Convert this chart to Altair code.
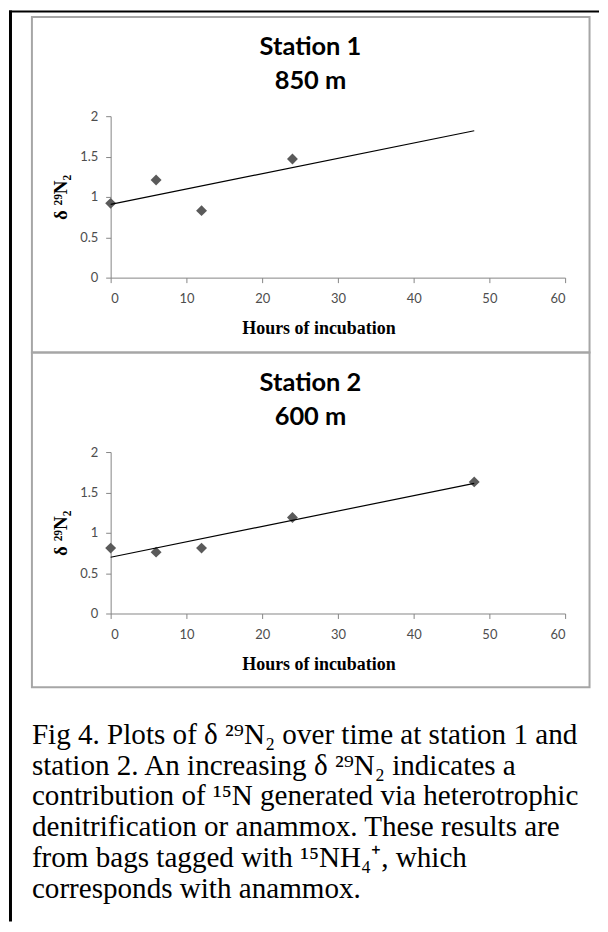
import altair as alt
import pandas as pd

# ---- data ----
hours_s1 = [0, 6, 12, 24]
d29_s1 = [0.92, 1.21, 0.83, 1.47]
hours_s2 = [0, 6, 12, 24, 48]
d29_s2 = [0.81, 0.76, 0.81, 1.19, 1.63]
x_ticks = [0, 10, 20, 30, 40, 50, 60]
y_ticks = [0, 0.5, 1, 1.5, 2]
titles_s1 = ["Station 1", "850 m"]
titles_s2 = ["Station 2", "600 m"]
x_title = "Hours  of incubation"
y_title = "δ ²⁹N₂"
caption_lines = [
    "Fig 4. Plots of δ ²⁹N₂ over time at station 1 and",
    "station 2. An increasing δ ²⁹N₂ indicates a",
    "contribution of ¹⁵N generated via heterotrophic",
    "denitrification or anammox. These results are",
    "from bags tagged with ¹⁵NH₄⁺, which",
    "corresponds with anammox.",
]

W, H = 456, 162
GAP = 175
SERIF = "Liberation Serif"
SANS = "Lato"


def one_row():
    return alt.Chart(pd.DataFrame({"k": [0]}))


def text_line(s, x, y, **kw):
    return one_row().mark_text(
        text=s, baseline="alphabetic", color="#000000", **kw
    ).encode(x=alt.value(x), y=alt.value(y))


def title_marks(lines):
    return [
        text_line(s, 200.5, -61 + 34 * i, font=SANS, fontSize=25.5,
                  fontWeight="bold", align="center")
        for i, s in enumerate(lines)
    ]


def panel(hours, vals, titles, extra):
    df = pd.DataFrame({"hours": hours, "d29": vals})
    base = alt.Chart(df)
    x = alt.X(
        "hours:Q",
        scale=alt.Scale(domain=[0, 60], nice=False, zero=False),
        axis=alt.Axis(
            values=x_ticks, title=x_title, titleX=208.5, titleY=56,
            titleAlign="center", titleBaseline="alphabetic", titleAngle=0,
            titleFont=SERIF, titleFontSize=18, titleFontWeight="bold",
            labelPadding=10,
        ),
    )
    y = alt.Y(
        "d29:Q",
        scale=alt.Scale(domain=[0, 2], nice=False),
        axis=alt.Axis(
            values=y_ticks, format="~g", title=y_title, titleX=-44, titleY=81,
            titleAngle=270, titleAlign="center", titleBaseline="alphabetic",
            titleFont=SERIF, titleFontSize=19, titleFontWeight="bold",
            labelPadding=8,
        ),
    )
    pts = base.mark_point(
        shape="diamond", filled=True, size=120, color="#5a5a5a", opacity=1
    ).encode(x=x, y=y)
    line = base.transform_regression(
        "hours", "d29", extent=[0, 48]
    ).mark_line(color="#000000", strokeWidth=1.2).encode(
        x=alt.X("hours:Q"), y=alt.Y("d29:Q")
    )
    layers = extra + title_marks(titles) + [pts, line]
    return alt.layer(*layers).properties(width=W, height=H)


# decorations (pixel positions relative to each panel's plot area)
box1 = one_row().mark_rect(
    fill="transparent", stroke="#a6a6a6", strokeWidth=2
).encode(x=alt.value(-79), x2=alt.value(480.5), y=alt.value(-99.5), y2=alt.value(237))
top_bar = one_row().mark_rect(color="#000000").encode(
    x=alt.value(-102), x2=alt.value(490), y=alt.value(-106), y2=alt.value(-104)
)
left_bar = one_row().mark_rect(color="#000000").encode(
    x=alt.value(-102), x2=alt.value(-99), y=alt.value(-106), y2=alt.value(808)
)
box2 = one_row().mark_rect(
    fill="transparent", stroke="#a6a6a6", strokeWidth=2
).encode(x=alt.value(-79), x2=alt.value(480.5), y=alt.value(-100), y2=alt.value(236))
caption = [
    text_line(s, -79, 293 + 30.8 * i, font=SERIF, fontSize=29.2, align="left")
    for i, s in enumerate(caption_lines)
]

p1 = panel(hours_s1, d29_s1, titles_s1, [top_bar, left_bar, box1])
p2 = panel(hours_s2, d29_s2, titles_s2, [box2] + caption)

chart = alt.vconcat(p1, p2, spacing=GAP, bounds="flush").properties(
    padding=0
).configure_view(stroke="transparent").configure_axis(
    grid=False, domainColor="#868686", tickColor="#868686", tickSize=5,
    labelFont=SANS, labelFontSize=13, labelColor="#4d4d4d",
    titleColor="#000000",
)

chart.save("out.html", embed_options={"renderer": "svg", "actions": False})
